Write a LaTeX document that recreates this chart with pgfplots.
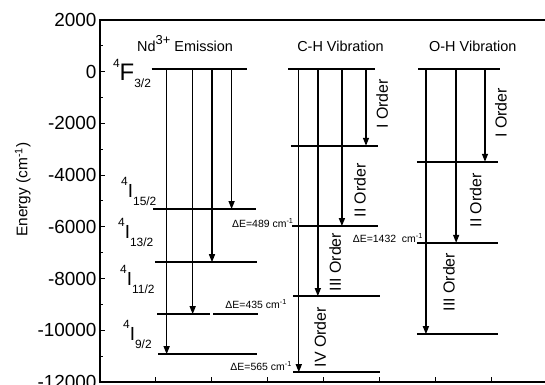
\documentclass[border=0pt]{standalone}
\usepackage{pgfplots}
\pgfplotsset{compat=1.18}
\usepackage{fontspec}
\setmainfont{Liberation Sans}
\usetikzlibrary{arrows.meta}
\newcommand\fs[1]{\fontsize{#1}{#1}\selectfont}
\begin{document}
\begin{tikzpicture}
\begin{axis}[
  scale only axis, width=448bp, height=362bp,
  xmin=0, xmax=8, ymin=-12000, ymax=2000,
  xtick={1,...,7}, xticklabels={},
  ytick={-12000,-10000,...,2000},
  scaled y ticks=false,
  minor y tick num=1,
  tick align=inside, tick pos=left,
  major tick length=5bp, minor tick length=3bp,
  axis line style={line width=1.3bp},
  every tick/.style={line width=1bp, black},
  yticklabel style={font=\fs{19}},
  /pgf/number format/assume math mode=true,
  /pgf/number format/1000 sep={},
  ylabel={Energy (cm\textsuperscript{-1})},
  ylabel style={font=\fs{15.5}, at={(ticklabel cs:0.54)}, xshift=-3bp},
  clip=false,
  level/.style={black, line width=1.6bp, mark=none},
  arr/.style={black, line width=1.4bp, mark=none, -{Triangle[length=8bp,width=6bp]}},
]
% Nd3+ emission levels
\addplot[level] coordinates {(0.92,100) (2.63,100)};
\addplot[level] coordinates {(0.95,-5313) (2.79,-5313)};
\addplot[level] coordinates {(0.98,-7367) (2.81,-7367)};
\addplot[level] coordinates {(1.02,-9376) (1.96,-9376)};
\addplot[level] coordinates {(2.02,-9376) (2.82,-9376)};
\addplot[level] coordinates {(1.04,-10925) (2.80,-10925)};
\addplot[arr] coordinates {(1.19,100) (1.19,-10925)};
\addplot[arr] coordinates {(1.655,100) (1.655,-9376)};
\addplot[arr] coordinates {(2.0,100) (2.0,-7367)};
\addplot[arr] coordinates {(2.35,100) (2.35,-5313)};
% C-H vibration levels
\addplot[level] coordinates {(3.36,100) (4.91,100)};
\addplot[level] coordinates {(3.41,-2864) (4.96,-2864)};
\addplot[level] coordinates {(3.43,-5971) (4.96,-5971)};
\addplot[level] coordinates {(3.45,-8680) (5.0,-8680)};
\addplot[level] coordinates {(3.45,-11621) (5.0,-11621)};
\addplot[arr] coordinates {(3.55,100) (3.55,-11621)};
\addplot[arr] coordinates {(3.89,100) (3.89,-8680)};
\addplot[arr] coordinates {(4.32,100) (4.32,-5971)};
\addplot[arr] coordinates {(4.75,100) (4.75,-2864)};
% O-H vibration levels
\addplot[level] coordinates {(5.68,100) (7.14,100)};
\addplot[level] coordinates {(5.66,-3483) (7.11,-3483)};
\addplot[level] coordinates {(5.66,-6618) (7.11,-6618)};
\addplot[level] coordinates {(5.66,-10151) (7.11,-10151)};
\addplot[arr] coordinates {(5.82,100) (5.82,-10151)};
\addplot[arr] coordinates {(6.36,100) (6.36,-6618)};
\addplot[arr] coordinates {(6.875,100) (6.875,-3483)};
% titles
\node[anchor=base west, font=\fs{14.5}, inner sep=0] at (axis cs:0.66,774) {Nd{\fs{13}\raisebox{7bp}{3+}} Emission};
\node[anchor=base west, font=\fs{14.5}, inner sep=0] at (axis cs:3.52,774) {C-H Vibration};
\node[anchor=base west, font=\fs{14.5}, inner sep=0] at (axis cs:5.875,774) {O-H Vibration};
% level labels
\node[anchor=base west, inner sep=0] at (axis cs:0.23,-321) {\fs{12}\raisebox{13bp}{4}\fs{24}F\fs{12}\raisebox{-7bp}{3/2}};
\node[anchor=base west, inner sep=0] at (axis cs:0.375,-4849) {\fs{12}\raisebox{12bp}{4}\fs{19}I\fs{12}\raisebox{-8bp}{15/2}};
\node[anchor=base west, inner sep=0] at (axis cs:0.32,-6436) {\fs{12}\raisebox{12bp}{4}\fs{19}I\fs{12}\raisebox{-8bp}{13/2}};
\node[anchor=base west, inner sep=0] at (axis cs:0.357,-8256) {\fs{12}\raisebox{12bp}{4}\fs{19}I\fs{12}\raisebox{-8bp}{11/2}};
\node[anchor=base west, inner sep=0] at (axis cs:0.41,-10383) {\fs{12}\raisebox{12bp}{4}\fs{19}I\fs{12}\raisebox{-8bp}{9/2}};
% order labels
\node[rotate=90, font=\fs{16}] at (axis cs:5.04,-1250) {I Order};
\node[rotate=90, font=\fs{16}] at (axis cs:4.64,-4586) {II Order};
\node[rotate=90, font=\fs{16}] at (axis cs:4.2,-7365) {III Order};
\node[rotate=90, font=\fs{16}] at (axis cs:3.93,-10264) {IV Order};
\node[rotate=90, font=\fs{16}] at (axis cs:7.16,-1598) {I Order};
\node[rotate=90, font=\fs{16}] at (axis cs:6.71,-4973) {II Order};
\node[rotate=90, font=\fs{16}] at (axis cs:6.23,-8139) {III Order};
% Delta E labels
\node[anchor=base east, inner sep=0, font=\fs{10.5}] at (axis cs:3.46,-6013) {ΔE=489 cm\textsuperscript{-1}};
\node[anchor=base east, inner sep=0, font=\fs{10.5}] at (axis cs:3.34,-9147) {ΔE=435 cm\textsuperscript{-1}};
\node[anchor=base east, inner sep=0, font=\fs{10.5}] at (axis cs:3.43,-11548) {ΔE=565 cm\textsuperscript{-1}};
\node[anchor=base east, inner sep=0, font=\fs{10.5}] at (axis cs:5.77,-6590) {ΔE=1432~~cm\textsuperscript{-1}};
\end{axis}
\pgfresetboundingbox
\useasboundingbox (-100bp,-3bp) rectangle (445bp,382bp);
\end{tikzpicture}
\end{document}
